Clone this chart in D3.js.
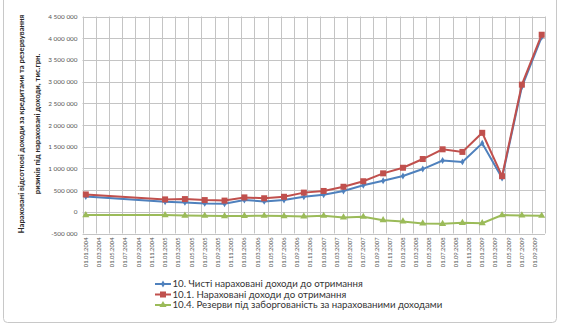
<!DOCTYPE html>
<html><head><meta charset="utf-8">
<script src="https://cdn.jsdelivr.net/npm/d3@7/dist/d3.min.js"></script>
<style>body{margin:0;background:#fff}svg{display:block}</style>
</head><body>
<script>
const dates = ["01.01.2004","01.01.2005","01.04.2005","01.07.2005","01.10.2005","01.01.2006","01.04.2006","01.07.2006","01.10.2006","01.01.2007","01.04.2007","01.07.2007","01.10.2007","01.01.2008","01.04.2008","01.07.2008","01.10.2008","01.01.2009","01.04.2009","01.07.2009","01.10.2009"];
const netIncome = [355000,231000,217000,194000,185000,270000,240000,270000,346000,392000,480000,612000,716000,825000,985000,1180000,1150000,1580000,780000,2880000,4030000];
const accruedIncome = [400000,286000,293000,270000,258000,332000,312000,346000,442000,480000,577000,704000,886000,1015000,1216000,1440000,1380000,1820000,820000,2930000,4080000];
const reserves = [-76000,-76000,-88000,-92000,-99000,-95000,-92000,-99000,-107000,-92000,-130000,-115000,-192000,-222000,-268000,-277000,-254000,-261000,-76000,-84000,-92000];
const xTickLabels = ["01.01.2004","01.03.2004","01.05.2004","01.07.2004","01.09.2004","01.11.2004","01.01.2005","01.03.2005","01.05.2005","01.07.2005","01.09.2005","01.11.2005","01.01.2006","01.03.2006","01.05.2006","01.07.2006","01.09.2006","01.11.2006","01.01.2007","01.03.2007","01.05.2007","01.07.2007","01.09.2007","01.11.2007","01.01.2008","01.03.2008","01.05.2008","01.07.2008","01.09.2008","01.11.2008","01.01.2009","01.03.2009","01.05.2009","01.07.2009","01.09.2009"];
const yTicks = [-500000,0,500000,1000000,1500000,2000000,2500000,3000000,3500000,4000000,4500000];
const seriesNames = ["10. Чисті нараховані доходи до отримання","10.1. Нараховані доходи до отримання","10.4. Резерви під заборгованість за нарахованими доходами"];
const yTitle = ["Нараховані відсоткові доходи за кредитами та резервування","ризиків під нараховані доходи, тис.грн."];

const W = 563, H = 326;
const svg = d3.select("body").append("svg").attr("width", W).attr("height", H);
const font = "Lato, 'Open Sans', sans-serif";

// chart border
svg.append("rect").attr("x", 3.5).attr("y", -6).attr("width", 553).attr("height", 328.5)
  .attr("fill", "none").attr("stroke", "#c8c8c8").attr("stroke-width", 1).attr("rx", 4);

const pL = 82.5, pR = 545, pT = 16.5, pB = 233.5;
const monthIdx = s => { const p = s.split("."); return (+p[2] - 2004) * 12 + (+p[1] - 1); };
const x = d3.scaleLinear().domain([0, 70]).range([pL, pR]);
const y = d3.scaleLinear().domain([-500000, 4500000]).range([pB, pT]);
const px = s => x(monthIdx(s) + 0.5);

// gridlines
const g = svg.append("g");
g.selectAll("line.v").data(d3.range(0, 71, 2)).join("line")
  .attr("x1", d => Math.round(x(d)) + 0.5).attr("x2", d => Math.round(x(d)) + 0.5)
  .attr("y1", pT).attr("y2", pB).attr("stroke", "#c4c4c4").attr("stroke-width", 1);
g.selectAll("line.h").data(yTicks).join("line")
  .attr("x1", pL).attr("x2", pR)
  .attr("y1", d => Math.round(y(d)) + 0.5).attr("y2", d => Math.round(y(d)) + 0.5)
  .attr("stroke", "#c4c4c4").attr("stroke-width", 1);

// y axis labels
const yAxis = d3.axisLeft(y).tickValues(yTicks).tickSize(0).tickPadding(5)
  .tickFormat(d => d3.format(",")(d).replace(/,/g, " ").replace("−", "-"));
const ya = svg.append("g").attr("transform", `translate(${pL},0)`).call(yAxis);
ya.select(".domain").remove();
ya.selectAll("text").attr("font-family", font).attr("font-size", 6.4).attr("fill", "#555");

// x axis labels
const xa = svg.append("g").attr("transform", `translate(0,${pB})`);
xa.selectAll("text").data(xTickLabels).join("text")
  .attr("transform", d => `translate(${px(d) + 2},4) rotate(-90)`)
  .attr("text-anchor", "end").attr("font-family", font).attr("font-size", 5.8).attr("fill", "#555")
  .text(d => d);

// y title
svg.append("g").attr("transform", `translate(0,124) rotate(-90)`)
  .selectAll("text").data(yTitle).join("text")
  .attr("x", 0).attr("y", (d, i) => 24 + i * 15.5)
  .attr("text-anchor", "middle").attr("font-family", font).attr("font-weight", "bold")
  .attr("font-size", 7.7).attr("fill", "#2a2a2a").text(d => d);

const colors = ["#4F81BD", "#C0504D", "#9BBB59"];
const allSeries = [netIncome, accruedIncome, reserves];
const line = d3.line().x(d => px(d[0])).y(d => y(d[1]));

function marker(sel, i, cx, cy) {
  if (i === 1) sel.append("rect").attr("x", cx - 3).attr("y", cy - 3).attr("width", 6).attr("height", 6).attr("fill", colors[1]);
  else if (i === 0) sel.append("path").attr("d", d3.symbol(d3.symbolDiamond, 14)()).attr("transform", `translate(${cx},${cy})`).attr("fill", colors[0]);
  else sel.append("path").attr("d", d3.symbol(d3.symbolTriangle, 22)()).attr("transform", `translate(${cx},${cy})`).attr("fill", colors[2]);
}

[2, 0, 1].forEach(i => {
  const data = dates.map((d, k) => [d, allSeries[i][k]]);
  const gs = svg.append("g");
  gs.append("path").datum(data).attr("d", line).attr("fill", "none")
    .attr("stroke", colors[i]).attr("stroke-width", 2);
  data.forEach(d => marker(gs, i, px(d[0]), y(d[1])));
});

// legend
const lg = svg.append("g");
seriesNames.forEach((name, i) => {
  const ly = 284 + i * 10.5;
  lg.append("line").attr("x1", 155).attr("x2", 171).attr("y1", ly).attr("y2", ly)
    .attr("stroke", colors[i]).attr("stroke-width", 2);
  marker(lg, i, 163, ly);
  lg.append("text").attr("x", 172.5).attr("y", ly + 3.3).attr("font-family", font)
    .attr("font-size", 9.7).attr("fill", "#333").text(name);
});
</script>
</body></html>
